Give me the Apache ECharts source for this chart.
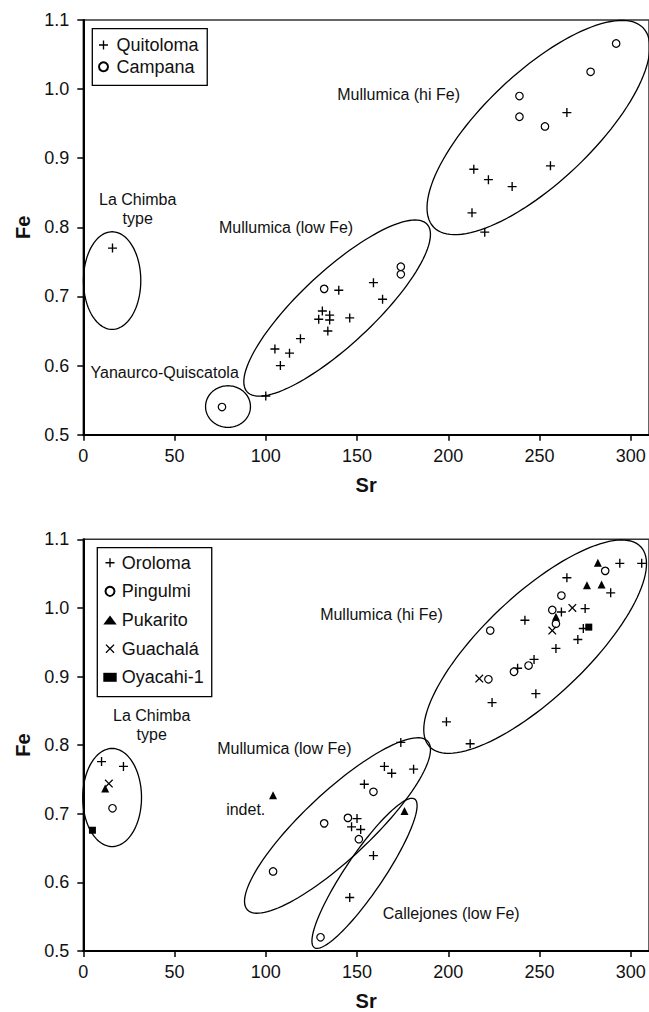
<!DOCTYPE html>
<html>
<head>
<meta charset="utf-8">
<script src="https://cdn.jsdelivr.net/npm/echarts@6/dist/echarts.min.js"></script>
<style>
html,body{margin:0;padding:0;background:#fff;}
#chart{width:649px;height:1012px;}
</style>
</head>
<body>
<div id="chart"></div>
<script>
// ---------- tick labels ----------
const xTicks = [0, 50, 100, 150, 200, 250, 300];
const yTicks = [0.5, 0.6, 0.7, 0.8, 0.9, 1.0, 1.1];

// ---------- top panel data (Sr, Fe) ----------
const quitoloma = [[16,0.770],[100,0.556],[105,0.624],[108,0.600],[113,0.618],[119,0.639],[129,0.667],[131,0.679],[134,0.650],[135,0.666],[135,0.673],[140,0.709],[146,0.669],[159,0.720],[164,0.696],[213,0.821],[214,0.884],[220,0.793],[222,0.869],[235,0.859],[256,0.889],[265,0.966]];
const campana = [[76,0.540],[132,0.711],[174,0.743],[174,0.732],[239,0.990],[239,0.960],[253,0.946],[278,1.025],[292,1.066]];

// ---------- bottom panel data (Sr, Fe) ----------
const oroloma = [[10,0.776],[22,0.769],[146,0.578],[147,0.681],[150,0.693],[152,0.677],[154,0.743],[159,0.639],[165,0.769],[169,0.759],[174,0.804],[181,0.765],[199,0.834],[212,0.802],[224,0.862],[238,0.912],[242,0.982],[247,0.925],[248,0.875],[259,0.941],[262,0.994],[265,1.044],[271,0.954],[274,0.970],[275,0.999],[289,1.022],[294,1.065],[306,1.065]];
const pingulmi = [[16,0.708],[104,0.616],[130,0.520],[132,0.686],[145,0.694],[151,0.663],[159,0.732],[222,0.896],[223,0.967],[236,0.907],[244,0.916],[257,0.997],[259,0.977],[262,1.018],[286,1.054]];
const pukarito = [[12,0.737],[104,0.727],[176,0.704],[259,0.987],[276,1.033],[284,1.034],[282,1.066]];
const guachala = [[14,0.744],[217,0.897],[257,0.967],[268,1.000]];
const oyacahi = [[5,0.676],[277,0.972]];

// ---------- group ellipses: [centre Sr, centre Fe, axis-1 end Sr, Fe, axis-2 end Sr, Fe] ----------
const topEllipses = [
  [15.8,0.723, 15.8,0.7936, 31.5,0.723],
  [79.3,0.5407, 91.6,0.5407, 79.3,0.5708],
  [139.1,0.6832, 188.4,0.8045, 125.5,0.7223],
  [249.4,0.9444, 306.9,1.0883, 228.9,1.002]
];
const bottomEllipses = [
  [15.8,0.7237, 15.8,0.7952, 31.9,0.7237],
  [139.3,0.6829, 188.7,0.8058, 126.8,0.7183],
  [154.1,0.6132, 181.6,0.7214, 145.5,0.6288],
  [247.6,0.9435, 305.5,1.0891, 228.3,0.998]
];

// ---------- annotations ----------
const topNoteText = ['La Chimba\ntype', 'Mullumica (low Fe)', 'Mullumica (hi Fe)', 'Yanaurco-Quiscatola'];
const topNotePos = [[29.8,0.8262],[111.1,0.800],[172.8,0.9925],[44.6,0.5896]];
const bottomNoteText = ['La Chimba\ntype', 'Mullumica (low Fe)', 'Mullumica (hi Fe)', 'indet.', 'Callejones (low Fe)'];
const bottomNotePos = [[37.5,0.8294],[110.2,0.7948],[163.4,0.990],[89.0,0.7055],[201.6,0.555]];

// ---------- styling ----------
const FONT = '"Liberation Sans", Arial, Helvetica, sans-serif';
const TXT = '#111';
const PLUS = 'path://M4.25,0H5.75V4.25H10V5.75H5.75V10H4.25V5.75H0V4.25H4.25Z';
const CROSS = 'path://M0,1.06L1.06,0L5,3.94L8.94,0L10,1.06L6.06,5L10,8.94L8.94,10L5,6.06L1.06,10L0,8.94L3.94,5Z';

function ellipseItem(params, api) {
  const c = api.coord([api.value(0), api.value(1)]);
  const a = api.coord([api.value(2), api.value(3)]);
  const b = api.coord([api.value(4), api.value(5)]);
  const pts = [];
  const N = 120;
  for (let i = 0; i < N; i++) {
    const t = i / N * 2 * Math.PI;
    pts.push([
      c[0] + (a[0] - c[0]) * Math.cos(t) + (b[0] - c[0]) * Math.sin(t),
      c[1] + (a[1] - c[1]) * Math.cos(t) + (b[1] - c[1]) * Math.sin(t)
    ]);
  }
  return { type: 'polygon', shape: { points: pts }, style: { fill: 'none', stroke: '#000', lineWidth: 1.3 } };
}
function noteItem(texts) {
  return function (params, api) {
    const p = api.coord([api.value(0), api.value(1)]);
    return { type: 'text', x: p[0], y: p[1], style: {
      text: texts[params.dataIndex], fill: TXT, font: '16px ' + FONT,
      align: 'center', verticalAlign: 'middle', lineHeight: 18.5 } };
  };
}

function xAxis(idx) {
  return {
    gridIndex: idx, type: 'value', min: 0, max: 310,
    name: 'Sr', nameLocation: 'middle', nameGap: 40,
    nameTextStyle: { fontFamily: FONT, fontSize: 20, fontWeight: 'bold', color: TXT },
    axisLine: { lineStyle: { color: '#000', width: 2 } },
    axisTick: { length: 6, lineStyle: { color: '#000', width: 1.5 }, customValues: xTicks },
    axisLabel: { fontFamily: FONT, fontSize: 18, color: TXT, margin: 12, customValues: xTicks },
    splitLine: { show: false }
  };
}
function yAxis(idx) {
  return {
    gridIndex: idx, type: 'value', min: 0.5, max: 1.1,
    name: 'Fe', nameLocation: 'middle', nameGap: 50, nameRotate: 90,
    nameTextStyle: { fontFamily: FONT, fontSize: 20, fontWeight: 'bold', color: TXT },
    axisLine: { lineStyle: { color: '#000', width: 2 } },
    axisTick: { length: 6, lineStyle: { color: '#000', width: 1.5 }, customValues: yTicks },
    axisLabel: { fontFamily: FONT, fontSize: 18, color: TXT, margin: 14, customValues: yTicks,
      formatter: v => Number(v).toFixed(1) },
    splitLine: { show: false }
  };
}
function scatter(name, idx, data, symbol, size, style) {
  return { type: 'scatter', name, xAxisIndex: idx, yAxisIndex: idx, data, symbol, symbolSize: size,
    itemStyle: style, z: 5, emphasis: { disabled: true } };
}
const solid = { color: '#000', opacity: 1 };
const hollow = { color: '#fff', borderColor: '#000', borderWidth: 1.2, opacity: 1 };

const chart = echarts.init(document.getElementById('chart'), null, { renderer: 'svg', width: 649, height: 1012 });
chart.setOption({
  animation: false,
  backgroundColor: '#fff',
  grid: [
    { left: 83.3, top: 20, width: 567.6, height: 414.7, show: true, borderColor: '#333', borderWidth: 1.5, backgroundColor: 'transparent' },
    { left: 83.3, top: 539.3, width: 567.6, height: 412.7, show: true, borderColor: '#333', borderWidth: 1.5, backgroundColor: 'transparent' }
  ],
  xAxis: [xAxis(0), xAxis(1)],
  yAxis: [yAxis(0), yAxis(1)],
  legend: [
    { data: ['Quitoloma', 'Campana'], orient: 'vertical', left: 92.3, top: 28.7,
      padding: [7.3, 8.7, 9.6, 5.7], itemGap: 3.7, itemWidth: 16, itemHeight: 9,
      borderColor: '#000', borderWidth: 1.3, selectedMode: false,
      textStyle: { fontFamily: FONT, fontSize: 18, color: TXT } },
    { data: ['Oroloma', 'Pingulmi', 'Pukarito', 'Guachalá', 'Oyacahi-1'], orient: 'vertical', left: 97.3, top: 547.7,
      padding: [6, 8, 10.4, 6], itemGap: 10.65, itemWidth: 13.4, itemHeight: 9,
      borderColor: '#000', borderWidth: 1.3, selectedMode: false,
      textStyle: { fontFamily: FONT, fontSize: 18, color: TXT } }
  ],
  series: [
    { type: 'custom', name: 'ellipsesTop', xAxisIndex: 0, yAxisIndex: 0, data: topEllipses, encode: { x: 0, y: 1 }, renderItem: ellipseItem, clip: false, silent: true, z: 2 },
    { type: 'custom', name: 'ellipsesBottom', xAxisIndex: 1, yAxisIndex: 1, data: bottomEllipses, encode: { x: 0, y: 1 }, renderItem: ellipseItem, clip: false, silent: true, z: 2 },
    { type: 'custom', name: 'notesTop', xAxisIndex: 0, yAxisIndex: 0, data: topNotePos, renderItem: noteItem(topNoteText), clip: false, silent: true, z: 3 },
    { type: 'custom', name: 'notesBottom', xAxisIndex: 1, yAxisIndex: 1, data: bottomNotePos, renderItem: noteItem(bottomNoteText), clip: false, silent: true, z: 3 },
    scatter('Quitoloma', 0, quitoloma, PLUS, 9, solid),
    scatter('Campana', 0, campana, 'circle', 7.5, hollow),
    scatter('Oroloma', 1, oroloma, PLUS, 9, solid),
    scatter('Pingulmi', 1, pingulmi, 'circle', 7.5, hollow),
    scatter('Pukarito', 1, pukarito, 'triangle', 8, solid),
    scatter('Guachalá', 1, guachala, CROSS, 8.5, solid),
    scatter('Oyacahi-1', 1, oyacahi, 'rect', 7, solid)
  ]
});
</script>
</body>
</html>
